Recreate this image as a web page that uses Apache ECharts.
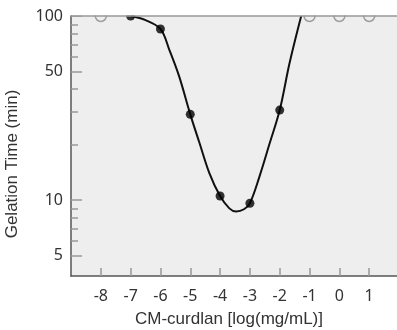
<!DOCTYPE html>
<html>
<head>
<meta charset="utf-8">
<script src="https://cdn.jsdelivr.net/npm/echarts@6/dist/echarts.min.js"></script>
<style>
  html, body { margin: 0; padding: 0; background: #fff; }
  #chart { width: 397px; height: 330px; }
</style>
</head>
<body>
<div id="chart"></div>
<script>
// measured points (filled) and points that never gelled (open, at cap)
const gelX = [-7, -6, -5, -4, -3, -2];
const gelTime = [100, 85, 29.2, 10.5, 9.6, 30.8];
const noGelX = [-8, -1, 0, 1];
const noGelTime = [100, 100, 100, 100];

// fitted curve
const curveX = [-7, -6.5, -6, -5.7, -5.37, -5, -4.69, -4.36, -4, -3.69, -3.46, -3.2, -3, -2.68, -2.35, -2, -1.67, -1.28];
const curveY = [100, 95, 85, 65.3, 46.8, 29.2, 20.4, 14.0, 10.5, 9.0, 8.65, 8.9, 9.6, 13.4, 20, 30.8, 55.5, 100];

const xTicks = [-8, -7, -6, -5, -4, -3, -2, -1, 0, 1];
const yMajor = [5, 10, 50, 100];
const yMinor = [6, 7, 8, 9, 20, 30, 40, 60, 70, 80, 90];

const GRID = { left: 71, top: 16, width: 328, height: 260 };
const LABEL_FONT = "'Noto Sans', 'Open Sans', sans-serif";
const NAME_FONT = "'Liberation Sans', Arial, sans-serif";

const chart = echarts.init(document.getElementById("chart"), null, { renderer: "canvas" });

const zip = (xs, ys) => xs.map((x, i) => [x, ys[i]]);

const yBase = {
  type: "log",
  logBase: 10,
  min: 3.86,
  max: 100,
  splitLine: { show: false },
  minorTick: { show: false },
};

chart.setOption({
  animation: false,
  grid: {
    ...GRID,
    outerBoundsMode: "none",
    containLabel: false,
    show: true,
    backgroundColor: "#eeeeee",
    borderWidth: 0,
  },
  xAxis: {
    type: "value",
    min: -9,
    max: 2,
    interval: 1,
    name: "CM-curdlan [log(mg/mL)]",
    nameLocation: "middle",
    nameGap: 35,
    nameTextStyle: { fontFamily: NAME_FONT, fontSize: 17, color: "#333", padding: [0, 12, 0, 0] },
    axisLine: { show: true, onZero: false, lineStyle: { color: "#555", width: 1.5 } },
    axisTick: {
      show: true,
      inside: true,
      length: 8,
      customValues: xTicks,
      lineStyle: { color: "#999", width: 1.5 },
    },
    axisLabel: {
      customValues: xTicks,
      margin: 12,
      fontFamily: LABEL_FONT,
      fontSize: 16,
      color: "#333",
    },
    splitLine: { show: false },
  },
  yAxis: [
    {
      ...yBase,
      name: "Gelation Time (min)",
      nameLocation: "middle",
      nameGap: 50,
      nameTextStyle: { fontFamily: NAME_FONT, fontSize: 17, color: "#333", padding: [0, 36, 0, 0] },
      axisLine: { show: true, onZero: false, lineStyle: { color: "#555", width: 1.5 } },
      axisTick: {
        show: true,
        inside: true,
        length: 11,
        customValues: yMajor,
        lineStyle: { color: "#999", width: 1.5 },
      },
      axisLabel: {
        customValues: yMajor,
        margin: 8,
        fontFamily: LABEL_FONT,
        fontSize: 16,
        color: "#333",
      },
    },
    {
      ...yBase,
      position: "left",
      axisLine: { show: false, onZero: false },
      axisTick: {
        show: true,
        inside: true,
        length: 7,
        customValues: yMinor,
        lineStyle: { color: "#999", width: 1.5 },
      },
      axisLabel: { show: false },
    },
  ],
  graphic: [
    // white band above the plot so the capped markers look cut off
    {
      type: "rect",
      z: 100,
      shape: { x: GRID.left + 1, y: 0, width: 400, height: GRID.top - 0.5 },
      style: { fill: "#fff" },
    },
    {
      type: "line",
      z: 101,
      shape: { x1: GRID.left, y1: GRID.top, x2: 400, y2: GRID.top },
      style: { stroke: "#999", lineWidth: 1.5 },
    },
  ],
  series: [
    {
      type: "line",
      data: zip(curveX, curveY),
      smooth: 0.35,
      showSymbol: false,
      lineStyle: { color: "#111", width: 2 },
      z: 2,
    },
    {
      type: "scatter",
      data: zip(noGelX, noGelTime),
      symbolSize: 11,
      itemStyle: { color: "#eeeeee", borderColor: "#888", borderWidth: 1.5 },
      z: 3,
    },
    {
      type: "scatter",
      data: zip(gelX, gelTime),
      symbolSize: 9,
      itemStyle: { color: "#000" },
      z: 4,
    },
  ],
});
</script>
</body>
</html>
